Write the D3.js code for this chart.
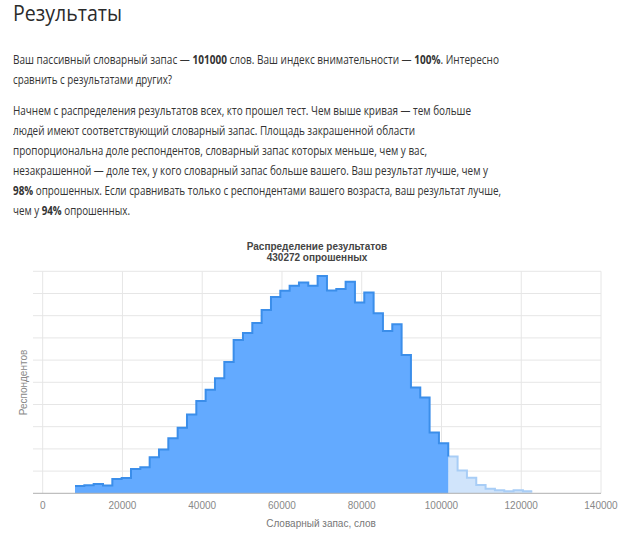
<!DOCTYPE html>
<html>
<head>
<meta charset="utf-8">
<script src="https://cdn.jsdelivr.net/npm/d3@7"></script>
<style>
  body { margin: 0; background: #fff; width: 640px; height: 535px; overflow: hidden; position: relative; }
  #text { position: absolute; left: 13px; top: 0; font-family: "Open Sans", sans-serif; color: #333; }
  h1 { margin: 0; font-weight: 400; font-size: 22.5px; line-height: 26px; height: 26px; color: #2b2b2b; }
  p { margin: 0; font-size: 12.5px; line-height: 20px; white-space: nowrap; }
  .ln { display: block; height: 20px; }
  .fit { display: inline-block; transform-origin: 0 50%; white-space: nowrap; }
  #chart { position: absolute; left: 0; top: 0; }
</style>
</head>
<body>
<div id="text">
  <h1><span class="fit" data-w="109">Результаты</span></h1>
  <p style="margin-top:24px">
    <span class="ln"><span class="fit" data-w="486">Ваш пассивный словарный запас — <b>101000</b> слов. Ваш индекс внимательности — <b>100%</b>. Интересно</span></span>
    <span class="ln"><span class="fit" data-w="159">сравнить с результатами других?</span></span>
  </p>
  <p style="margin-top:11px">
    <span class="ln"><span class="fit" data-w="458">Начнем с распределения результатов всех, кто прошел тест. Чем выше кривая — тем больше</span></span>
    <span class="ln"><span class="fit" data-w="402">людей имеют соответствующий словарный запас. Площадь закрашенной области</span></span>
    <span class="ln"><span class="fit" data-w="414">пропорциональна доле респондентов, словарный запас которых меньше, чем у вас,</span></span>
    <span class="ln"><span class="fit" data-w="475">незакрашенной — доле тех, у кого словарный запас больше вашего. Ваш результат лучше, чем у</span></span>
    <span class="ln"><span class="fit" data-w="488"><b>98%</b> опрошенных. Если сравнивать только с респондентами вашего возраста, ваш результат лучше,</span></span>
    <span class="ln"><span class="fit" data-w="117">чем у <b>94%</b> опрошенных.</span></span>
  </p>
</div>
<svg id="chart" width="640" height="535"></svg>
<script>
// bin left edges (words) and respondents per bin
const binStarts = [8100, 10440, 12780, 15120, 17460, 19800, 22140, 24480, 26820, 29160,
  31500, 33840, 36180, 38520, 40860, 43200, 45540, 47880, 50220, 52560,
  54900, 57240, 59580, 61920, 64260, 66600, 68940, 71280, 73620, 75960,
  78300, 80640, 82980, 85320, 87660, 90000, 92340, 94680, 97020, 99360,
  101700, 104040, 106380, 108720, 111060, 113400, 115740, 118080, 120420];
const binEnd = 122760;
const respondents = [660, 720, 840, 700, 1280, 1380, 2200, 2340, 3240, 3940,
  4960, 5900, 7100, 8320, 9320, 10360, 11840, 13800, 14440, 15340,
  16520, 17680, 18240, 18700, 19000, 18700, 19580, 18280, 18400, 19060,
  17180, 18100, 16220, 14620, 15220, 12460, 9540, 8620, 5480, 4500,
  3320, 2060, 1400, 740, 400, 280, 180, 280, 180];
const userScore = 101000;
const xTicks = [0, 20000, 40000, 60000, 80000, 100000, 120000, 140000];
const yTicks = [0, 2000, 4000, 6000, 8000, 10000, 12000, 14000, 16000, 18000, 20000];

// squeeze each text line to the width it has in the picture
d3.selectAll('.fit').each(function() {
  let target = +this.getAttribute('data-w');
  let w = this.getBoundingClientRect().width;
  d3.select(this).style('transform', 'scaleX(' + (target / w) + ')');
});

const svg = d3.select('#chart');

let x = d3.scaleLinear().domain([0, 140000]).range([42.7, 601]);
let y = d3.scaleLinear().domain([0, 20000]).range([493.3, 271.3]);
let gridLeft = 33;

// horizontal grid
svg.append('g')
  .selectAll('line')
  .data(yTicks.slice(1))
  .enter()
  .append('line')
  .attr('x1', gridLeft).attr('x2', x(140000))
  .attr('y1', d => y(d)).attr('y2', d => y(d))
  .attr('stroke', '#e6e6e6').attr('stroke-width', 1);

// vertical grid
svg.append('g')
  .selectAll('line')
  .data(xTicks)
  .enter()
  .append('line')
  .attr('x1', d => x(d)).attr('x2', d => x(d))
  .attr('y1', y(20000)).attr('y2', y(0))
  .attr('stroke', '#e6e6e6').attr('stroke-width', 1);

// split bins into the part below the user's score and the rest
let bins = binStarts.map((s, i) => ({ x0: s, x1: i < binStarts.length - 1 ? binStarts[i + 1] : binEnd, v: respondents[i] }));
let below = bins.filter(b => b.x0 < userScore);
let above = bins.filter(b => b.x0 >= userScore);

function stepPoints(list) {
  let pts = list.map(b => [b.x0, b.v]);
  let last = list[list.length - 1];
  pts.push([last.x1, last.v]);
  return pts;
}

let area = d3.area()
  .curve(d3.curveStepAfter)
  .x(d => x(d[0]))
  .y0(y(0))
  .y1(d => y(d[1]));

let line = d3.line()
  .curve(d3.curveStepAfter)
  .x(d => x(d[0]))
  .y(d => y(d[1]));

let belowPts = stepPoints(below);
let abovePts = stepPoints(above);

svg.append('path').attr('d', area(abovePts)).attr('fill', '#d0e4fb');
svg.append('path').attr('d', line(abovePts)).attr('fill', 'none').attr('stroke', '#a8cdf6').attr('stroke-width', 2);

svg.append('path').attr('d', area(belowPts)).attr('fill', '#63aaff');
// dark outline drops to the first light bin
let belowLine = belowPts.concat([[above[0].x0, above[0].v]]);
svg.append('path').attr('d', line(belowLine)).attr('fill', 'none').attr('stroke', '#3b8eea').attr('stroke-width', 2);

// baseline
svg.append('line')
  .attr('x1', gridLeft).attr('x2', x(140000))
  .attr('y1', y(0)).attr('y2', y(0))
  .attr('stroke', '#b0b0b0').attr('stroke-width', 1);

// x tick labels
svg.append('g')
  .selectAll('text')
  .data(xTicks)
  .enter()
  .append('text')
  .attr('x', d => x(d))
  .attr('y', 508.5)
  .attr('text-anchor', 'middle')
  .style('font-family', 'Arial, "Liberation Sans", sans-serif')
  .style('font-size', '10px')
  .style('fill', '#888')
  .text(d => d);

// axis titles
svg.append('text')
  .attr('x', 321).attr('y', 526.5)
  .attr('text-anchor', 'middle')
  .style('font-family', 'Arial, "Liberation Sans", sans-serif')
  .style('font-size', '10px')
  .style('fill', '#777')
  .text('Словарный запас, слов');

svg.append('text')
  .attr('transform', 'translate(26.5,382.5) rotate(-90)')
  .attr('text-anchor', 'middle')
  .style('font-family', 'Arial, "Liberation Sans", sans-serif')
  .style('font-size', '10px')
  .style('fill', '#888')
  .text('Респондентов');

// chart title
let title = svg.append('text')
  .attr('text-anchor', 'middle')
  .style('font-family', 'Arial, "Liberation Sans", sans-serif')
  .style('font-size', '10px')
  .style('font-weight', 'bold')
  .style('fill', '#444');
title.append('tspan').attr('x', 317).attr('y', 249.5).text('Распределение результатов');
title.append('tspan').attr('x', 317).attr('y', 260.5).text('430272 опрошенных');
</script>
</body>
</html>
